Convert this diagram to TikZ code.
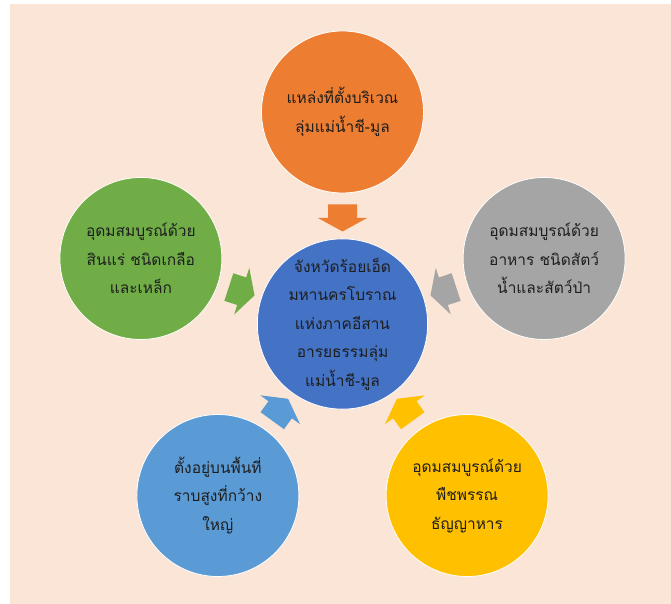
\documentclass[tikz,border=0pt]{standalone}
\usepackage{fontspec}
\usetikzlibrary{calc}
\newfontfamily\thaifont[Script=Thai]{Loma}
\definecolor{bgpeach}{HTML}{FBE5D6}
\definecolor{corange}{HTML}{ED7D31}
\definecolor{cgreen}{HTML}{70AD47}
\definecolor{cgray}{HTML}{A5A5A5}
\definecolor{clblue}{HTML}{5B9BD5}
\definecolor{cyellow}{HTML}{FFC000}
\definecolor{cblue}{HTML}{4472C4}
\definecolor{txt}{HTML}{1E1E1E}
\begin{document}
\begin{tikzpicture}[x=1pt,y=1pt,
  bubble/.style={circle, inner sep=0pt, minimum size=162pt, draw=white, line width=0.8pt,
    text=txt, align=center, font=\thaifont\fontsize{15.5}{28.5}\selectfont},
  hub/.style={bubble, minimum size=166pt},
  blockarrow/.pic={\fill[pic actions] (-13.5,-14.5) -- (0,-14.5) -- (0,-24.5) -- (13.5,0) -- (0,24.5) -- (0,14.5) -- (-13.5,14.5) -- cycle;}
]
\useasboundingbox (0,0) rectangle (671,604);
\fill[white] (0,0) rectangle (671,604);
\fill[bgpeach] (10,-1) rectangle (672,600);
\coordinate (C) at (342.5,280);
\node[hub, fill=cblue] (center) at (C) {จังหวัดร้อยเอ็ด\\มหานครโบราณ\\แห่งภาคอีสาน\\อารยธรรมลุ่ม\\แม่น้ำชี-มูล};
\node[bubble, fill=corange] (top) at ($(C)+(90:212)$) {แหล่งที่ตั้งบริเวณ\\ลุ่มแม่น้ำชี-มูล};
\node[bubble, fill=cgreen] (left) at ($(C)+(162:212)$) {อุดมสมบูรณ์ด้วย\\สินแร่ ชนิดเกลือ\\และเหล็ก};
\node[bubble, fill=cgray] (right) at ($(C)+(18:212)$) {อุดมสมบูรณ์ด้วย\\อาหาร ชนิดสัตว์\\น้ำและสัตว์ป่า};
\node[bubble, fill=clblue] (bl) at ($(C)+(234:212)$) {ตั้งอยู่บนพื้นที่\\ราบสูงที่กว้าง\\ใหญ่};
\node[bubble, fill=cyellow] (br) at ($(C)+(306:212)$) {อุดมสมบูรณ์ด้วย\\พืชพรรณ\\ธัญญาหาร};
\pic[fill=corange, rotate=270] at ($(center.center)!0.5!(top.center)$) {blockarrow};
\pic[fill=cgreen, rotate=342] at ($(center.center)!0.5!(left.center)$) {blockarrow};
\pic[fill=cgray, rotate=198] at ($(center.center)!0.5!(right.center)$) {blockarrow};
\pic[fill=clblue, rotate=54] at ($(center.center)!0.5!(bl.center)$) {blockarrow};
\pic[fill=cyellow, rotate=126] at ($(center.center)!0.5!(br.center)$) {blockarrow};
\end{tikzpicture}
\end{document}
